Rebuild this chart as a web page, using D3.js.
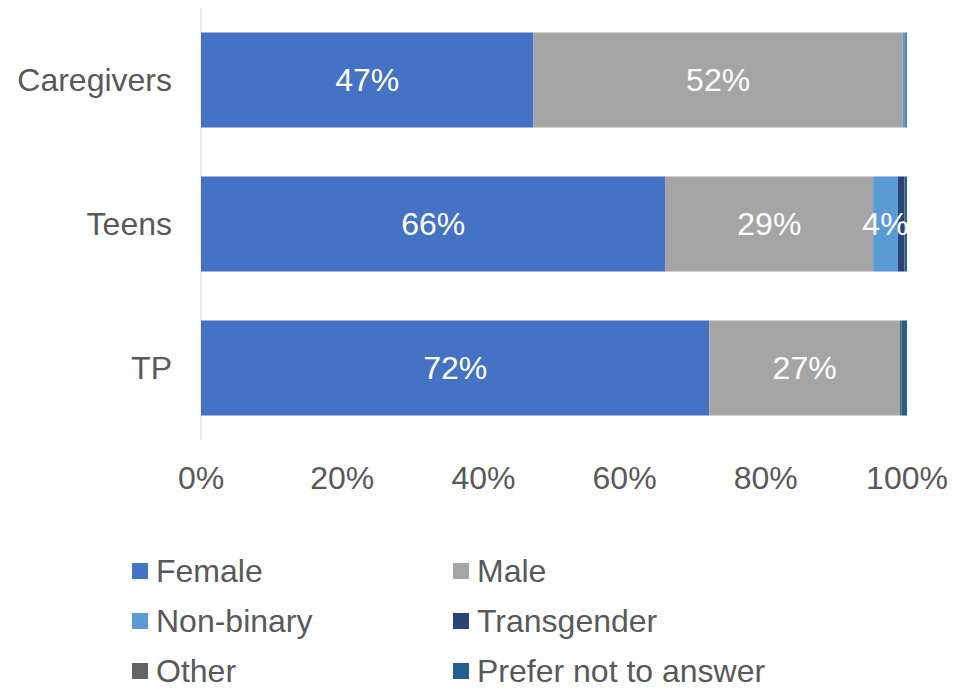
<!DOCTYPE html>
<html><head><meta charset="utf-8">
<script src="https://cdn.jsdelivr.net/npm/d3@7"></script>
<style>body{margin:0;background:#fff}svg{display:block}text{font-family:"Liberation Sans",Arial,sans-serif}</style>
</head><body><svg id="c" width="959" height="690"></svg>
<script>
const categories = ["Caregivers", "Teens", "TP"];
const seriesNames = ["Female", "Male", "Non-binary", "Transgender", "Other", "Prefer not to answer"];
const female = [47.1, 65.8, 72.0];
const male = [52.3, 29.4, 27.0];
const nonBinary = [0.4, 3.5, 0.0];
const transgender = [0.1, 0.9, 0.0];
const other = [0.0, 0.1, 0.2];
const preferNot = [0.1, 0.3, 0.8];
const tickValues = [0, 20, 40, 60, 80, 100];
const colors = ["#4472C4", "#A5A5A5", "#5B9BD5", "#264478", "#636363", "#255E91"];

const seriesValues = [female, male, nonBinary, transgender, other, preferNot];
const rows = categories.map((c, i) => {
  const o = {cat: c};
  seriesNames.forEach((s, j) => o[s] = seriesValues[j][i]);
  return o;
});
const stacked = d3.stack().keys(seriesNames)(rows);

const svg = d3.select("#c");
const x = d3.scaleLinear().domain([0, 100]).range([201, 907]);
const y = d3.scaleBand().domain(categories).range([8, 440]).paddingInner(0.34).paddingOuter(0.17);
const fs = 32, txt = "#595959";

svg.append("line").attr("x1", x(0)).attr("x2", x(0)).attr("y1", 8).attr("y2", 440)
  .attr("stroke", "#d9d9d9").attr("stroke-width", 1);

const g = svg.selectAll("g.s").data(stacked).enter().append("g").attr("fill", (d, i) => colors[i]);
g.selectAll("rect").data(d => d).enter().append("rect")
  .attr("x", d => x(d[0])).attr("width", d => x(d[1]) - x(d[0]))
  .attr("y", d => y(d.data.cat)).attr("height", y.bandwidth());

stacked.forEach(s => {
  s.forEach(d => {
    const v = d[1] - d[0];
    if (v >= 3) {
      svg.append("text").attr("x", (x(d[0]) + x(d[1])) / 2)
        .attr("y", y(d.data.cat) + y.bandwidth() / 2 + 11)
        .attr("text-anchor", "middle").attr("fill", "#fff").attr("font-size", fs)
        .text(Math.round(v) + "%");
    }
  });
});

svg.selectAll("text.cat").data(categories).enter().append("text").attr("class", "cat")
  .attr("x", 172).attr("y", d => y(d) + y.bandwidth() / 2 + 11)
  .attr("text-anchor", "end").attr("fill", txt).attr("font-size", fs).text(d => d);

svg.selectAll("text.tick").data(tickValues).enter().append("text").attr("class", "tick")
  .attr("x", d => x(d)).attr("y", 489).attr("text-anchor", "middle")
  .attr("fill", txt).attr("font-size", fs).text(d => d + "%");

const lg = svg.selectAll("g.lg").data(seriesNames).enter().append("g")
  .attr("transform", (d, i) => `translate(${i % 2 ? 453 : 132},${571 + Math.floor(i / 2) * 50})`);
lg.append("rect").attr("x", 0).attr("y", -8).attr("width", 16).attr("height", 16)
  .attr("fill", (d, i) => colors[i]);
lg.append("text").attr("x", 24).attr("y", 11).attr("fill", txt).attr("font-size", fs).text(d => d);
</script></body></html>
